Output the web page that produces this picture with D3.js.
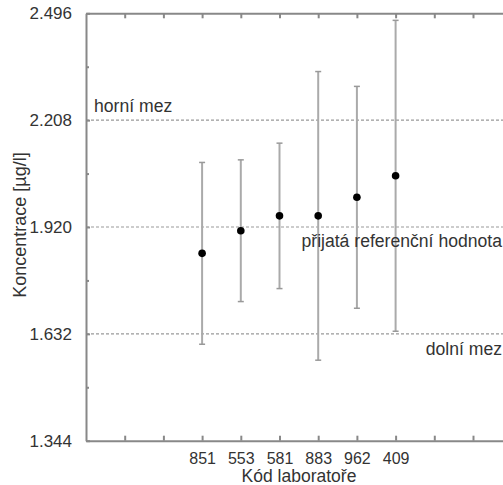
<!DOCTYPE html>
<html>
<head>
<meta charset="utf-8">
<script src="https://cdn.jsdelivr.net/npm/d3@7"></script>
<style>
  body { margin: 0; background: #fff; }
  svg { display: block; font-family: "Liberation Sans", Arial, sans-serif; }
  .axis path, .axis line { stroke: #888; }
  .axis text { fill: #333; }
</style>
</head>
<body>
<svg id="chart" width="503" height="485"></svg>
<script>
// lab codes and their results (mean +/- uncertainty)
var labs = ['851', '553', '581', '883', '962', '409'];
var values = [1.849, 1.910, 1.950, 1.950, 2.000, 2.058];
var errors = [0.245, 0.191, 0.196, 0.389, 0.299, 0.419];

var yTicks = [1.344, 1.632, 1.920, 2.208, 2.496];
var yMinor = [1.488, 1.776, 2.064, 2.352];
var xTicks = [1, 2, 3, 4, 5, 6, 7, 8, 9, 10, 11, 12];

var refValues = [2.208, 1.920, 1.632];
var refLabels = ['horní mez', 'přijatá referenční hodnota', 'dolní mez'];

var svg = d3.select('#chart');
var plotLeft = 86, plotTop = 13.3, plotBottom = 440.7;
var font = '"Liberation Sans", Arial, sans-serif';

var x = d3.scaleLinear().domain([0, 12]).range([plotLeft, plotLeft + 12 * 38.7]);
var y = d3.scaleLinear().domain([1.344, 2.496]).range([plotBottom, plotTop]);

// reference lines
svg.selectAll('line.ref').data(refValues).enter().append('line')
  .attr('class', 'ref')
  .attr('x1', plotLeft).attr('x2', 503)
  .attr('y1', function(d) { return y(d); })
  .attr('y2', function(d) { return y(d); })
  .attr('stroke', '#999')
  .attr('stroke-width', 1.2)
  .attr('stroke-dasharray', '3,2');

// bottom axis
var xAxis = d3.axisBottom(x).tickValues(xTicks).tickSizeInner(-5).tickSizeOuter(0).tickPadding(12)
  .tickFormat(function(d) { return labs[d - 3] || ''; });
svg.append('g').attr('class', 'axis').attr('transform', 'translate(0,' + plotBottom + ')')
  .call(xAxis)
  .call(function(g) {
    g.selectAll('text').attr('font-size', 16).attr('font-family', font);
    g.selectAll('line, path').attr('stroke-width', 2);
  });

// top axis, ticks only
svg.append('g').attr('class', 'axis').attr('transform', 'translate(0,' + plotTop + ')')
  .call(d3.axisTop(x).tickValues(xTicks).tickSizeInner(-5).tickSizeOuter(0).tickFormat(''))
  .call(function(g) { g.selectAll('line, path').attr('stroke-width', 2); });

// left axis
svg.append('g').attr('class', 'axis').attr('transform', 'translate(' + plotLeft + ',0)')
  .call(d3.axisLeft(y).tickValues(yTicks).tickSizeInner(-4).tickSizeOuter(0).tickPadding(14)
    .tickFormat(d3.format('.3f')))
  .call(function(g) {
    g.selectAll('text').attr('font-size', 17).attr('font-family', font);
    g.selectAll('line, path').attr('stroke-width', 2);
  });
svg.append('g').attr('class', 'axis').attr('transform', 'translate(' + plotLeft + ',0)')
  .call(d3.axisLeft(y).tickValues(yMinor).tickSizeInner(-3).tickSizeOuter(0).tickFormat(''))
  .call(function(g) { g.select('path').remove(); g.selectAll('line').attr('stroke-width', 2); });

// error bars
var bars = svg.selectAll('g.bar').data(values).enter().append('g').attr('class', 'bar');
bars.append('line')
  .attr('x1', function(d, i) { return x(i + 3); })
  .attr('x2', function(d, i) { return x(i + 3); })
  .attr('y1', function(d, i) { return y(d + errors[i]); })
  .attr('y2', function(d, i) { return y(d - errors[i]); })
  .attr('stroke', '#aaa').attr('stroke-width', 2);
[1, -1].forEach(function(s) {
  bars.append('line')
    .attr('x1', function(d, i) { return x(i + 3) - 3; })
    .attr('x2', function(d, i) { return x(i + 3) + 3; })
    .attr('y1', function(d, i) { return y(d + s * errors[i]); })
    .attr('y2', function(d, i) { return y(d + s * errors[i]); })
    .attr('stroke', '#999').attr('stroke-width', 1.5);
});
bars.append('circle')
  .attr('cx', function(d, i) { return x(i + 3); })
  .attr('cy', function(d) { return y(d); })
  .attr('r', 3.8)
  .attr('fill', '#000');

// reference labels
var refText = svg.append('g').attr('font-size', 17.6).attr('fill', '#333');
refText.append('text').attr('x', 94).attr('y', y(refValues[0]) - 8).text(refLabels[0]);
refText.append('text').attr('x', 502).attr('y', y(refValues[1]) + 20)
  .attr('text-anchor', 'end').text(refLabels[1]);
refText.append('text').attr('x', 502).attr('y', y(refValues[2]) + 21)
  .attr('text-anchor', 'end').text(refLabels[2]);

// axis titles
svg.append('text').attr('x', 299).attr('y', 482).attr('text-anchor', 'middle')
  .attr('font-size', 17.5).attr('fill', '#333').text('Kód laboratoře');
svg.append('text').attr('transform', 'translate(26,225) rotate(-90)').attr('text-anchor', 'middle')
  .attr('font-size', 18).attr('fill', '#333').text('Koncentrace [µg/l]');
</script>
</body>
</html>
